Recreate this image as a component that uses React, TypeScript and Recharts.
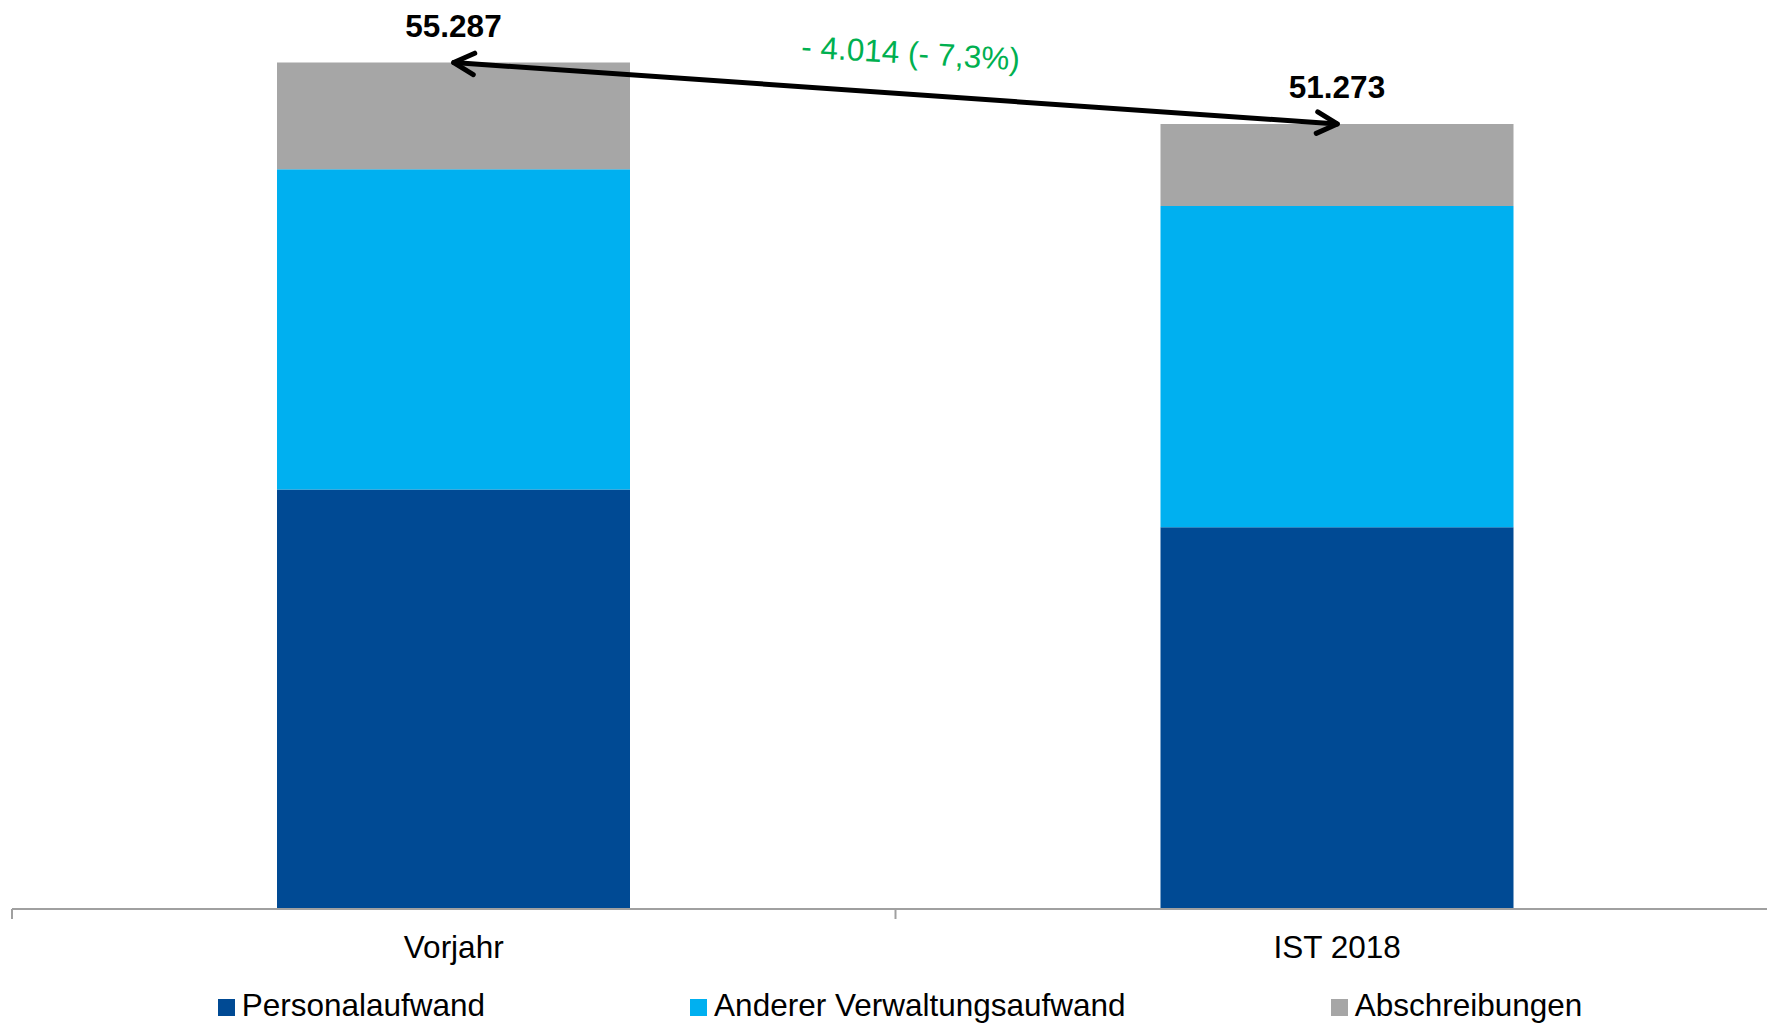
import { BarChart, Bar, XAxis, YAxis, Legend, LabelList, ReferenceLine } from 'recharts'

const categories = ['Vorjahr', 'IST 2018']
const seriesNames = ['Personalaufwand', 'Anderer Verwaltungsaufwand', 'Abschreibungen']
const personalaufwand = [27405, 24930]
const verwaltungsaufwand = [20915, 20985]
const abschreibungen = [6967, 5358]
const totals = [55287, 51273]

const FONT = '"Liberation Sans", Arial, sans-serif'
const DARK = '#004A94'
const LIGHT = '#00B0F0'
const GRAY = '#A6A6A6'
const AXIS = '#A0A0A0'

const chartData = categories.map((name, i) => ({
  name,
  personal: personalaufwand[i],
  verwaltung: verwaltungsaufwand[i],
  abschreibung: abschreibungen[i],
  total: totals[i],
}))

function fmt(n: number) {
  return Math.abs(n).toString().replace(/\B(?=(\d{3})+(?!\d))/g, '.')
}

const diff = totals[1] - totals[0]
const pct = (diff / totals[0]) * 100
const diffLabel = `${diff < 0 ? '- ' : '+ '}${fmt(diff)} (${pct < 0 ? '- ' : '+ '}${Math.abs(pct).toFixed(1).replace('.', ',')}%)`

function CategoryTick(props: any) {
  const { x, y, payload } = props
  const half = payload?.offset ?? 441.75
  return (
    <g>
      <line x1={x - half} x2={x - half} y1={y} y2={y + 10} stroke={AXIS} strokeWidth={2} />
      <text x={x} y={y + 48.7} textAnchor="middle" fontFamily={FONT} fontSize={31.5} fill="#000">
        {payload.value}
      </text>
    </g>
  )
}

function TotalLabel(props: any) {
  const { x, y, width, value } = props
  return (
    <text
      x={x + width / 2}
      y={y - 25.5}
      textAnchor="middle"
      fontFamily={FONT}
      fontSize={31.5}
      fontWeight="bold"
      fill="#000"
    >
      {fmt(value)}
    </text>
  )
}

function ArrowShape(props: any) {
  const { x1, y1, x2, y2 } = props
  const ang = Math.atan2(y2 - y1, x2 - x1)
  const arm = 23
  const spread = (28 * Math.PI) / 180
  const head = (px: number, py: number, dir: number) => {
    const a1 = dir + spread
    const a2 = dir - spread
    return `M${px + arm * Math.cos(a1)},${py + arm * Math.sin(a1)} L${px},${py} L${px + arm * Math.cos(a2)},${py + arm * Math.sin(a2)}`
  }
  const mx = (x1 + x2) / 2 + 14.5
  const my = (y1 + y2) / 2 - 29.5
  const deg = (ang * 180) / Math.PI * 0.85
  return (
    <g>
      <line x1={x1} y1={y1} x2={x2} y2={y2} stroke="#000" strokeWidth={5} strokeLinecap="round" />
      <path d={head(x1, y1, ang)} fill="none" stroke="#000" strokeWidth={5} strokeLinecap="round" strokeLinejoin="round" />
      <path d={head(x2, y2, ang + Math.PI)} fill="none" stroke="#000" strokeWidth={5} strokeLinecap="round" strokeLinejoin="round" />
      <text
        x={mx}
        y={my}
        textAnchor="middle"
        fontFamily={FONT}
        fontSize={31.5}
        fill="#00B050"
        transform={`rotate(${deg} ${mx} ${my})`}
      >
        {diffLabel}
      </text>
    </g>
  )
}

function LegendContent(props: any) {
  const items = [...(props.payload || [])].sort(
    (a: any, b: any) => seriesNames.indexOf(a.value) - seriesNames.indexOf(b.value)
  )
  return (
    <div
      style={{
        height: 50,
        paddingTop: 12,
        boxSizing: 'border-box',
        display: 'flex',
        justifyContent: 'center',
        gap: 205,
        paddingLeft: 9,
        fontFamily: FONT,
        fontSize: 31.5,
        lineHeight: '35px',
      }}
    >
      {items.map((p: any) => (
        <div key={p.value} style={{ display: 'flex', alignItems: 'center', whiteSpace: 'nowrap' }}>
          <span style={{ width: 17, height: 17, background: p.color, marginRight: 7, marginTop: 4, display: 'inline-block' }} />
          <span style={{ color: '#000' }}>{p.value}</span>
        </div>
      ))}
    </div>
  )
}

export default function App() {
  return (
    <div style={{ position: 'absolute', left: 0, top: 0, width: 1767, height: 1024, overflow: 'hidden', background: '#fff' }}>
      <BarChart
        width={1780}
        height={1024}
        data={chartData}
        margin={{ top: 21, right: 1, left: 12, bottom: 0 }}
      >
        <XAxis
          dataKey="name"
          height={65}
          tickSize={0}
          tickMargin={0}
          tickLine={false}
          axisLine={{ stroke: AXIS, strokeWidth: 2 }}
          tick={<CategoryTick />}
          interval={0}
        />
        <YAxis hide domain={[0, 58000]} />
        <Legend verticalAlign="bottom" content={<LegendContent />} />
        <Bar dataKey="personal" name={seriesNames[0]} stackId="a" fill={DARK} barSize={353} isAnimationActive={false} />
        <Bar dataKey="verwaltung" name={seriesNames[1]} stackId="a" fill={LIGHT} barSize={353} isAnimationActive={false} />
        <Bar dataKey="abschreibung" name={seriesNames[2]} stackId="a" fill={GRAY} barSize={353} isAnimationActive={false}>
          <LabelList dataKey="total" content={<TotalLabel />} />
        </Bar>
        <ReferenceLine
          segment={[
            { x: categories[0], y: totals[0] },
            { x: categories[1], y: totals[1] },
          ]}
          ifOverflow="visible"
          shape={<ArrowShape />}
        />
      </BarChart>
    </div>
  )
}
